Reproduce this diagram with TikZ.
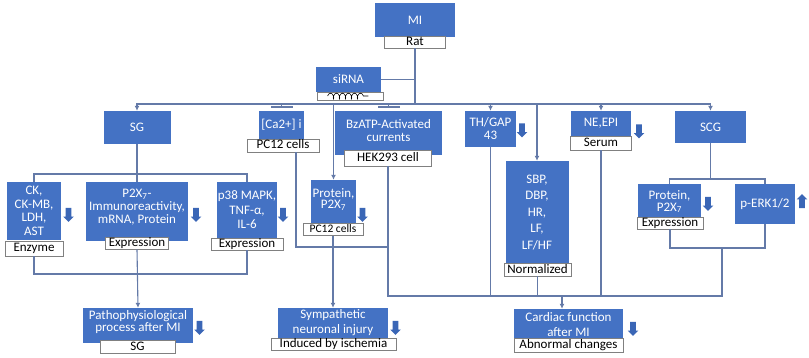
\documentclass[tikz,border=0pt]{standalone}
\usepackage{fontspec}
\setmainfont{Carlito}
\usetikzlibrary{arrows.meta,shapes.arrows,decorations.pathmorphing}
\definecolor{boxBlue}{RGB}{68,114,196}
\definecolor{iconBlue}{RGB}{58,102,182}
\definecolor{linkBlue}{RGB}{100,122,168}
\definecolor{tagGrey}{RGB}{128,128,128}

\begin{document}
\begin{tikzpicture}[x=1pt,y=-1pt,
  box/.style={fill=boxBlue,text=white,align=center,inner sep=0pt,font=\fontsize{13}{#1}\selectfont},
  box/.default=13,
  txt/.style={text=white,align=center,inner sep=0pt,font=\fontsize{13}{#1}\selectfont},
  txt/.default=13,
  tag/.style={fill=white,draw=tagGrey,line width=0.8pt,text=black,inner sep=0pt,text height=9.5pt,text depth=2.5pt,font=\fontsize{13}{13}\selectfont},
  link/.style={draw=linkBlue,line width=1.1pt},
  arr/.style={link,-{Latex[length=5pt,width=5pt]}},
  tee/.style={link,-{Bar[width=22pt,line width=2pt]},shorten >=2.5pt},
  dnicon/.style={single arrow,rotate=-90,fill=iconBlue,minimum height=14pt,text height=5.5pt,text depth=0pt,text width=0pt,single arrow head extend=2.3pt,inner sep=0pt},
  upicon/.style={dnicon,rotate=180}]
\useasboundingbox (0,0) rectangle (809,358);

\node[box,minimum width=80pt,minimum height=34pt] (mi) at (415,20) {MI};
\node[tag,minimum width=61pt,minimum height=12pt] (rat) at (415,42) {Rat};
\node[box,minimum width=65pt,minimum height=25pt] (sirna) at (348.5,79.5) {siRNA};
\node[tag,minimum width=66pt,minimum height=8pt,text height=0pt,text depth=0pt] (coil) at (350,96) {};
\draw[decorate,decoration={coil,aspect=0.5,amplitude=2.8pt,segment length=6pt},line width=0.6pt] ([xshift=11pt]coil.west) -- ([xshift=-15pt]coil.east);

\node[box,minimum width=67pt,minimum height=33pt] (sg) at (137,127.5) {SG};
\node[box,minimum width=45pt,minimum height=28pt] (ca) at (281.5,125) {[Ca2+] i};
\node[tag,minimum width=72pt,minimum height=13pt] (pcA) at (283,145.5) {PC12 cells};
\node[box,minimum width=107pt,minimum height=44pt] (bzatp) at (388.5,133) {};
\node[txt] (bzatpT) at (388.5,130.5) {BzATP-Activated\\currents};
\node[tag,minimum width=87pt,minimum height=16pt] (hek) at (388,158) {HEK293 cell};
\node[box,minimum width=51pt,minimum height=36pt] (thgap) at (490.5,129) {TH/GAP\\43};
\node[box,minimum width=60pt,minimum height=25pt] (neepi) at (601,123.5) {NE,EPI};
\node[tag,minimum width=61pt,minimum height=14pt] (serum) at (601,143) {Serum};
\node[box,minimum width=71pt,minimum height=32pt] (scg) at (710.5,127) {SCG};

\node[box=13.5,minimum width=54pt,minimum height=58pt] (ck) at (34,211) {CK,\\CK-MB,\\LDH,\\AST};
\node[tag,minimum width=58pt,minimum height=15pt] (enzyme) at (34,248.5) {Enzyme};
\node[box,minimum width=102pt,minimum height=59pt] (p2x) at (137,211.5) {};
\node[txt=13] (p2xT) at (137,207.5) {P2X\textsubscript{7}-\\Immunoreactivity,\\mRNA, Protein};
\node[tag,minimum width=63pt,minimum height=12pt] (exprA) at (137,243) {Expression};
\node[box=14.5,minimum width=60pt,minimum height=56pt] (p38) at (247,210) {p38 MAPK,\\TNF-α,\\IL-6};
\node[tag,minimum width=72pt,minimum height=11pt] (exprB) at (247,244) {Expression};
\node[box,minimum width=45pt,minimum height=45pt] (protA) at (333.5,202.5) {};
\node[txt=11.5] (protAT) at (333.5,199.5) {Protein,\\P2X\textsubscript{7}};
\node[tag,minimum width=60pt,minimum height=11pt,font=\fontsize{11.5}{11.5}\selectfont] (pcB) at (333,229.5) {PC12 cells};
\node[box=16.5,minimum width=63pt,minimum height=103pt] (sbp) at (537,212.5) {SBP,\\DBP,\\HR,\\LF,\\LF/HF};
\node[tag,minimum width=67pt,minimum height=13pt] (norm) at (537.5,269.5) {Normalized};
\node[box,minimum width=63pt,minimum height=43pt] (protB) at (669.5,205.5) {};
\node[txt=12] (protBT) at (669.5,201.5) {Protein,\\P2X\textsubscript{7}};
\node[tag,minimum width=66pt,minimum height=12pt] (exprC) at (670,223) {Expression};
\node[box,minimum width=60pt,minimum height=40pt] (perk) at (765,204) {p-ERK1/2};

\node[box,minimum width=110pt,minimum height=35pt] (patho) at (138,325.5) {};
\node[txt=12] (pathoT) at (138,322.5) {Pathophysiological\\process after MI};
\node[tag,minimum width=75pt,minimum height=13pt] (sgtag) at (137.5,346.5) {SG};
\node[box=15,minimum width=110pt,minimum height=30pt] (symp) at (333,323) {Sympathetic\\neuronal injury};
\node[tag,minimum width=125pt,minimum height=12pt] (ischemia) at (333.5,344) {Induced by ischemia};
\node[box=15,minimum width=109pt,minimum height=31pt] (cardiac) at (568.5,324.5) {Cardiac function\\after MI};
\node[tag,minimum width=109pt,minimum height=14pt] (abnormal) at (568.5,345) {Abnormal changes};

\node[dnicon] (dnTH) at (522,129) {};
\node[dnicon] (dnNE) at (639,130) {};
\node[dnicon] (dnCK) at (68.5,213.5) {};
\node[dnicon] (dnP2X) at (196,213.5) {};
\node[dnicon] (dnP38) at (283,213.5) {};
\node[dnicon] (dnProtA) at (362.5,213.5) {};
\node[dnicon] (dnProtB) at (708,202.5) {};
\node[upicon] (upERK) at (802,202.5) {};
\node[dnicon] (dnPatho) at (199.5,326.5) {};
\node[dnicon] (dnSymp) at (395.5,326.5) {};
\node[dnicon] (dnCardiac) at (633,327.5) {};

\coordinate (hub) at (415,104);
\draw[link] (rat.south) -- (hub);
\draw[link] (sirna.east) -- (sirna.east -| hub);
\draw[arr] (hub) -| (sg.north);
\draw[arr] (hub) -| (protA.north);
\draw[arr] (hub) -| (thgap.north);
\draw[arr] (hub) -| (sbp.north);
\draw[arr] (hub) -| (neepi.north);
\draw[arr] (hub) -| (scg.north);
\draw[tee] (hub) -| (ca.north);
\draw[tee] (hub) -| (bzatp.north);

\coordinate (sgfork) at (137,174);
\draw[link] (sg.south) -- (p2x.north);
\draw[link] (sgfork) -| (ck.north);
\draw[link] (sgfork) -| (p38.north);
\coordinate (sgjoin) at (137,274);
\draw[link] (enzyme.south) |- (sgjoin) -| (exprB.south);
\draw[arr] (exprA.south) -- (patho.north);

\coordinate (cajoin) at (388,247);
\coordinate (cbar) at (562,296);
\draw[link] ([xshift=13pt]pcA.south) |- (cajoin);
\draw[link] (hek.south) |- (cbar);
\draw[link] (thgap.south) |- (cbar);
\draw[link] (norm.south) |- (cbar);
\draw[link] (serum.south) |- (cbar);

\coordinate (scgfork) at (710.5,179);
\draw[link] (scg.south) -- (scgfork);
\draw[link] (scgfork) -| (protB.north);
\draw[link] (scgfork) -| (perk.north);
\coordinate (scgjoin) at (722,248);
\draw[link] (exprC.south) |- (scgjoin) -| (perk.south);
\draw[link] (scgjoin) |- (cbar);
\draw[arr] (cbar) -- (cbar |- cardiac.north);
\draw[arr] (pcB.south) -- (symp.north);
\end{tikzpicture}
\end{document}
